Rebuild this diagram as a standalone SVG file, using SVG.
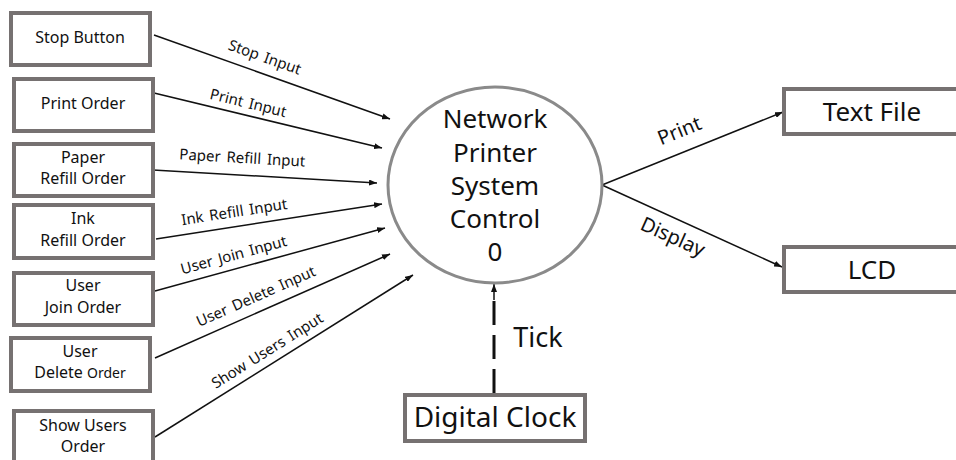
<svg xmlns="http://www.w3.org/2000/svg" width="956" height="460" viewBox="0 0 956 460">
<defs>
<style>
.box{fill:#fff;stroke:#767171;stroke-width:4}
.circ{fill:#fff;stroke:#8a8a8a;stroke-width:3}
.t{font-family:"Noto Sans","Open Sans","DejaVu Sans",sans-serif;fill:#111;text-anchor:middle}
.m{font-size:16px}
.l{font-size:26px}
.c{font-size:26px}
.conn{stroke:#111;stroke-width:1.5;fill:none}
.lbl{font-family:"Noto Sans","Open Sans","DejaVu Sans",sans-serif;fill:#111;text-anchor:middle;font-size:15px;word-spacing:2px}
</style>
<marker id="ah" viewBox="0 0 8 6" refX="8" refY="3" markerWidth="8" markerHeight="6" markerUnits="userSpaceOnUse" orient="auto">
<path d="M0,0 L8,3 L0,6 z" fill="#111"/>
</marker>
</defs>
<rect width="956" height="460" fill="#fff"/>

<g id="connectors">
<line class="conn" x1="154" y1="35" x2="390" y2="119" marker-end="url(#ah)"/>
<line class="conn" x1="154" y1="93" x2="382" y2="148" marker-end="url(#ah)"/>
<line class="conn" x1="153" y1="170" x2="377" y2="183" marker-end="url(#ah)"/>
<line class="conn" x1="156" y1="239" x2="382" y2="204" marker-end="url(#ah)"/>
<line class="conn" x1="155" y1="291" x2="385" y2="228" marker-end="url(#ah)"/>
<line class="conn" x1="155" y1="358" x2="390" y2="254" marker-end="url(#ah)"/>
<line class="conn" x1="155" y1="437" x2="413" y2="275" marker-end="url(#ah)"/>
<line class="conn" x1="602" y1="185" x2="783" y2="112" marker-end="url(#ah)"/>
<line class="conn" x1="602" y1="185" x2="782" y2="267" marker-end="url(#ah)"/>
<line x1="494" y1="393" x2="494" y2="300" stroke="#111" stroke-width="3" stroke-dasharray="24,10"/>
<line class="conn" x1="494" y1="300" x2="494" y2="284" stroke-width="2" marker-end="url(#ah)"/>
<text class="lbl" transform="translate(263,62) rotate(19.6)">Stop Input</text>
<text class="lbl" transform="translate(247,108) rotate(13.6)">Print Input</text>
<text class="lbl" transform="translate(242,163) rotate(3.3)">Paper Refill Input</text>
<text class="lbl" transform="translate(235,217) rotate(-8.8)">Ink Refill Input</text>
<text class="lbl" transform="translate(235,260) rotate(-15.3)">User Join Input</text>
<text class="lbl" transform="translate(258,301) rotate(-23.9)">User Delete Input</text>
<text class="lbl" transform="translate(270,355) rotate(-32.1)">Show Users Input</text>
<text class="t" style="font-size:20px" transform="translate(682,137) rotate(-22)">Print</text>
<text class="t" style="font-size:20px" transform="translate(670,243) rotate(24.2)">Display</text>
<text class="t" style="font-size:27px" x="538" y="347">Tick</text>
</g>

<g id="stop-button"><rect class="box" x="11" y="13" width="139" height="52"/><text class="t m" x="80" y="43">Stop Button</text></g>
<g id="print-order"><rect class="box" x="14" y="79" width="139" height="52"/><text class="t m" x="83" y="109">Print Order</text></g>
<g id="paper-refill-order"><rect class="box" x="14" y="144" width="139" height="52"/><text class="t m" x="83" y="163">Paper</text><text class="t m" x="83" y="184">Refill Order</text></g>
<g id="ink-refill-order"><rect class="box" x="14" y="205" width="139" height="53"/><text class="t m" x="83" y="224">Ink</text><text class="t m" x="83" y="246">Refill Order</text></g>
<g id="user-join-order"><rect class="box" x="14" y="273" width="139" height="52"/><text class="t m" x="83" y="291">User</text><text class="t m" x="83" y="313">Join Order</text></g>
<g id="user-delete-order"><rect class="box" x="11" y="338" width="139" height="53"/><text class="t m" x="80" y="357">User</text><text class="t m" x="80" y="378">Delete <tspan style="font-size:14px">Order</tspan></text></g>
<g id="show-users-order"><rect class="box" x="14" y="411" width="139" height="56"/><text class="t m" x="83" y="431">Show Users</text><text class="t m" x="83" y="452">Order</text></g>

<g id="process"><ellipse class="circ" cx="495" cy="185" rx="107" ry="98"/>
<text class="t c" x="495" y="128">Network</text>
<text class="t c" x="495" y="162">Printer</text>
<text class="t c" x="495" y="195">System</text>
<text class="t c" x="495" y="228">Control</text>
<text class="t c" x="495" y="261">0</text></g>

<g id="text-file"><rect class="box" x="784" y="89" width="190" height="45"/><text class="t l" x="872" y="121">Text File</text></g>
<g id="lcd"><rect class="box" x="784" y="247" width="190" height="45"/><text class="t l" x="872" y="279">LCD</text></g>
<g id="digital-clock"><rect class="box" x="405" y="395" width="180" height="46"/><text class="t" style="font-size:28px" x="495" y="427">Digital Clock</text></g>
</svg>
